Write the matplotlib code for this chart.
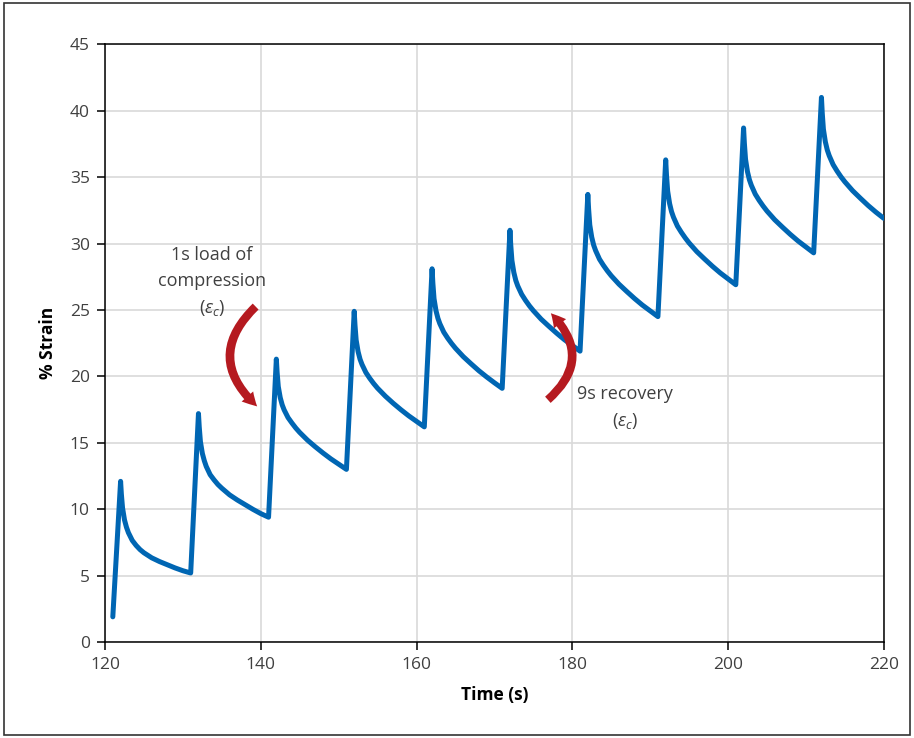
import numpy as np
import matplotlib
matplotlib.use("Agg")
import matplotlib.pyplot as plt
from matplotlib.patches import FancyArrowPatch, Rectangle

plt.rcParams['font.family'] = ['Open Sans', 'DejaVu Sans']
plt.rcParams['mathtext.fontset'] = 'custom'
plt.rcParams['mathtext.rm'] = 'Open Sans'
plt.rcParams['mathtext.it'] = 'Open Sans:italic'

# creep / recovery cycles
start_time = 121.0
start_strain = 1.9
cycle_peaks = [122, 132, 142, 152, 162, 172, 182, 192, 202, 212]
decay_offsets = [0, 0.1, 0.25, 0.5, 0.75, 1, 1.5, 2, 2.5, 3, 4, 5, 6, 7, 8, 9]
decay_strain = [
    [12.10, 11.13, 10.10, 9.20, 8.65, 8.24, 7.65, 7.27, 6.96, 6.72, 6.34, 6.06, 5.82, 5.58, 5.37, 5.20],
    [17.20, 16.19, 15.09, 14.20, 13.65, 13.22, 12.60, 12.21, 11.86, 11.58, 11.08, 10.69, 10.34, 9.99, 9.67, 9.40],
    [21.30, 20.30, 19.23, 18.40, 17.86, 17.48, 16.90, 16.49, 16.11, 15.78, 15.20, 14.70, 14.23, 13.79, 13.39, 13.00],
    [24.90, 23.86, 22.73, 21.86, 21.29, 20.90, 20.29, 19.85, 19.46, 19.11, 18.51, 17.98, 17.49, 17.03, 16.61, 16.20],
    [28.10, 27.02, 25.85, 24.95, 24.37, 23.96, 23.33, 22.88, 22.48, 22.12, 21.49, 20.95, 20.43, 19.96, 19.52, 19.10],
    [31.00, 29.91, 28.73, 27.82, 27.22, 26.81, 26.18, 25.72, 25.31, 24.95, 24.31, 23.77, 23.25, 22.76, 22.33, 21.90],
    [33.70, 32.60, 31.40, 30.48, 29.88, 29.47, 28.82, 28.36, 27.95, 27.58, 26.94, 26.39, 25.86, 25.37, 24.93, 24.50],
    [36.30, 35.17, 33.95, 33.01, 32.40, 31.98, 31.32, 30.85, 30.43, 30.05, 29.39, 28.83, 28.29, 27.79, 27.34, 26.90],
    [38.70, 37.57, 36.35, 35.41, 34.80, 34.38, 33.72, 33.25, 32.83, 32.45, 31.79, 31.23, 30.69, 30.19, 29.74, 29.30],
    # last cycle is cut at 220 s
    [41.00, 39.85, 38.61, 37.66, 37.04, 36.61, 35.94, 35.46, 35.03, 34.65, 33.98, 33.41, 32.86, 32.36, 31.90],
]

x_ticks = [120, 140, 160, 180, 200, 220]
y_ticks = [0, 5, 10, 15, 20, 25, 30, 35, 40, 45]

# build the series
t = [start_time]
s = [start_strain]
for pk, vals in zip(cycle_peaks, decay_strain):
    t += [pk + o for o in decay_offsets[:len(vals)]]
    s += vals

fig = plt.figure(figsize=(9.14, 7.38), dpi=100)
ax = fig.add_axes([0.1149, 0.130, 0.852, 0.810])

ax.plot(t, s, color='#0066b3', lw=3.6, solid_capstyle='round', solid_joinstyle='round', zorder=3)

ax.set_xlim(120, 220)
ax.set_ylim(0, 45)
ax.set_xticks(x_ticks)
ax.set_yticks(y_ticks)
ax.grid(True, color='#d9d9d9', lw=1.2)
ax.set_axisbelow(True)
for sp in ax.spines.values():
    sp.set_color('black')
    sp.set_linewidth(1.1)
ax.tick_params(direction='out', length=6, width=1.1, labelsize=12.5, labelcolor='#404040', pad=5)

ax.set_xlabel('Time (s)', fontsize=12.5, fontweight='bold', labelpad=9)
ax.set_ylabel('% Strain', fontsize=12.5, fontweight='bold', labelpad=9)

red = '#b51a20'
ax.text(133.7, 27.1, '1s load of\ncompression\n($\\varepsilon_c$)', ha='center', va='center',
        fontsize=13, color='#404040', linespacing=1.55)
ax.text(186.75, 17.6, '9s recovery\n($\\varepsilon_c$)', ha='center', va='center',
        fontsize=13, color='#404040', linespacing=1.55)

a1 = FancyArrowPatch((139.6, 25.4), (139.8, 17.6), connectionstyle='arc3,rad=0.55',
                     arrowstyle='simple,head_width=11,head_length=10,tail_width=6',
                     color=red, lw=0, zorder=4)
a2 = FancyArrowPatch((176.6, 18.1), (177.0, 24.9), connectionstyle='arc3,rad=0.55',
                     arrowstyle='simple,head_width=11,head_length=10,tail_width=6',
                     color=red, lw=0, zorder=4)
ax.add_patch(a1)
ax.add_patch(a2)

fig.add_artist(Rectangle((0.004, 0.004), 0.992, 0.992, transform=fig.transFigure,
                         fill=False, edgecolor='#333333', lw=1.2))

fig.savefig('out.png', dpi=100)
